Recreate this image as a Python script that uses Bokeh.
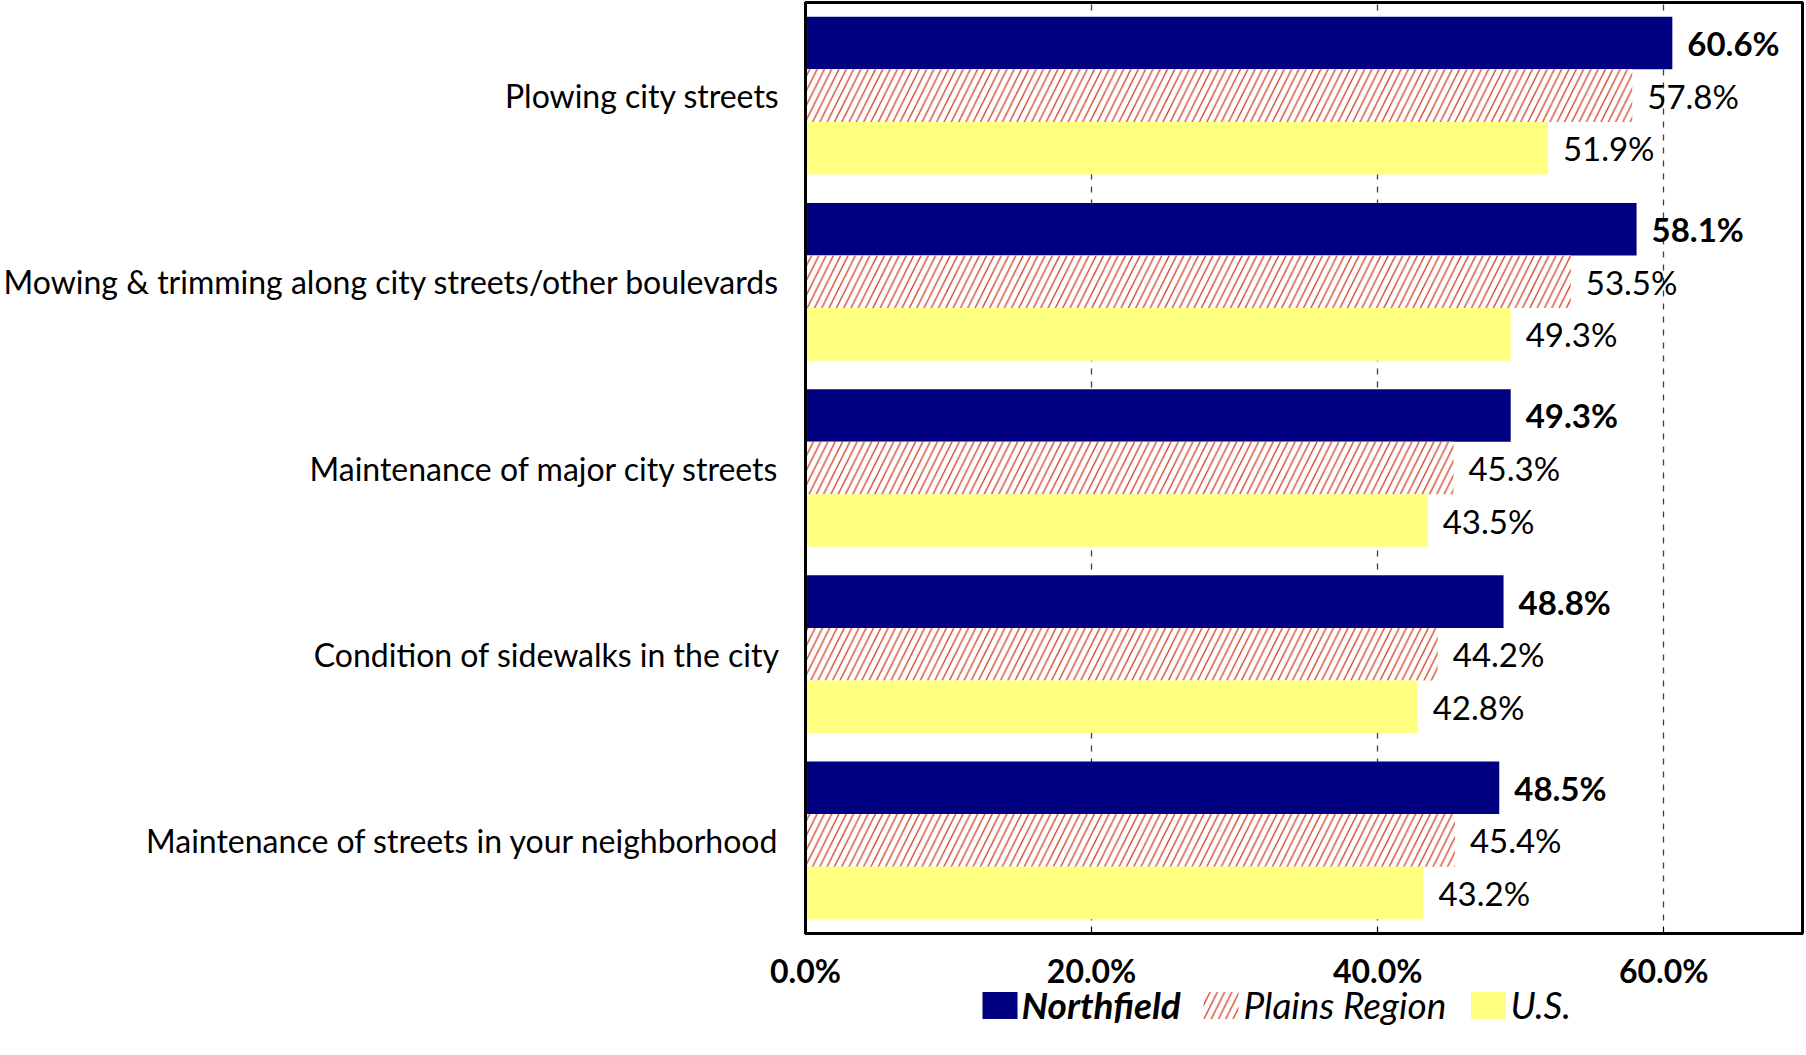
from bokeh.plotting import figure
from bokeh.models import (ColumnDataSource, FactorRange, Range1d, FixedTicker,
                          CustomJSTickFormatter, Label, LinearAxis)
from bokeh.transform import dodge
from bokeh.layouts import column
from bokeh.core.properties import value
from bokeh.embed import file_html
from bokeh.resources import INLINE

categories = [
    "Plowing city streets",
    "Mowing & trimming along city streets/other boulevards",
    "Maintenance of major city streets",
    "Condition of sidewalks in the city",
    "Maintenance of streets in your neighborhood",
]
northfield = [60.6, 58.1, 49.3, 48.8, 48.5]
plains = [57.8, 53.5, 45.3, 44.2, 45.4]
us = [51.9, 49.3, 43.5, 42.8, 43.2]
series_names = ["Northfield", "Plains Region", "U.S."]
x_ticks = [0, 20, 40, 60]

FONT = "Lato"
NAVY = "#000080"
YELLOW = "#FFFF80"
HATCH = "#D8472B"
HSCALE = 14.6

src = ColumnDataSource(dict(
    cat=categories, n=northfield, p=plains, u=us,
    nl=[f"{v:.1f}%" for v in northfield],
    pl=[f"{v:.1f}%" for v in plains],
    ul=[f"{v:.1f}%" for v in us],
))

BH = 0.2823

p = figure(
    y_range=FactorRange(factors=categories[::-1], range_padding=0),
    x_range=Range1d(0, 69.7),
    frame_width=997, frame_height=931,
    min_border_left=804, min_border_right=5, min_border_top=2, min_border_bottom=2,
    output_backend="svg", toolbar_location=None,
)

p.hbar(y=dodge("cat", BH, range=p.y_range), right="n", left=0, height=BH,
       source=src, fill_color=NAVY, line_color=None)
p.hbar(y=dodge("cat", 0, range=p.y_range), right="p", left=0, height=BH,
       source=src, fill_color="white", line_color=None,
       hatch_pattern="/", hatch_color=HATCH, hatch_scale=HSCALE, hatch_weight=1.4)
p.hbar(y=dodge("cat", -BH, range=p.y_range), right="u", left=0, height=BH,
       source=src, fill_color=YELLOW, line_color=None)

VFS = "33px"
p.text(x="n", y=dodge("cat", BH, range=p.y_range), text="nl", source=src,
       x_offset=15, text_baseline="middle", text_font=value(FONT),
       text_font_size=VFS, text_font_style="bold", text_color="black")
p.text(x="p", y=dodge("cat", 0, range=p.y_range), text="pl", source=src,
       x_offset=15, text_baseline="middle", text_font=value(FONT),
       text_font_size=VFS, text_color="black")
p.text(x="u", y=dodge("cat", -BH, range=p.y_range), text="ul", source=src,
       x_offset=15, text_baseline="middle", text_font=value(FONT),
       text_font_size=VFS, text_color="black")

# bottom axis of the bar panel: inward ticks only (labels live in the row below)
p.xaxis.ticker = FixedTicker(ticks=x_ticks)
p.xaxis.formatter = CustomJSTickFormatter(code="return '';")
p.xaxis.major_label_text_font_size = "0px"
p.xaxis.major_label_standoff = 0
p.xaxis.major_tick_in = 7
p.xaxis.major_tick_out = 0
p.xaxis.major_tick_line_color = "black"
p.xaxis.minor_tick_line_color = None
p.xaxis.axis_line_color = "black"
p.xaxis.axis_line_width = 3

p.yaxis.major_label_text_font = FONT
p.yaxis.major_label_text_font_size = "32px"
p.yaxis.major_label_text_color = "black"
p.yaxis.major_label_standoff = 20
p.yaxis.major_tick_line_color = None
p.yaxis.minor_tick_line_color = None
p.yaxis.axis_line_color = "black"
p.yaxis.axis_line_width = 3

p.ygrid.grid_line_color = None
p.xgrid.ticker = FixedTicker(ticks=x_ticks[1:])
p.xgrid.grid_line_color = "#404040"
p.xgrid.grid_line_dash = "6 7"
p.xgrid.grid_line_width = 1.3

p.outline_line_color = "black"
p.outline_line_width = 3
p.background_fill_color = "white"
p.border_fill_color = "white"

# lower row: shared x axis labels (above) + legend (in frame)
LH = 70
q = figure(frame_width=997, frame_height=LH,
           min_border_left=804, min_border_right=5, min_border_top=50, min_border_bottom=0,
           x_range=p.x_range, y_range=Range1d(0, LH),
           x_axis_location=None, y_axis_location=None,
           output_backend="svg", toolbar_location=None)
q.grid.visible = False
q.outline_line_color = None
xa = LinearAxis(ticker=FixedTicker(ticks=x_ticks),
                formatter=CustomJSTickFormatter(code="return tick.toFixed(1) + '%';"))
xa.major_label_text_font = FONT
xa.major_label_text_font_size = "32px"
xa.major_label_text_font_style = "bold"
xa.major_label_text_color = "black"
xa.major_label_standoff = -10
xa.major_tick_line_color = None
xa.minor_tick_line_color = None
xa.axis_line_color = None
q.add_layout(xa, "above")

# legend geometry in pixels, converted to the shared x scale
x0, x1 = 0, 69.7
pxu = (x1 - x0) / 997.0
def px(v):
    return x0 + (v - 804) * pxu

yc = LH - 19
sw_x = [998.5, 1219.5, 1487]
tx_x = [1020, 1242, 1509]
q.rect(x=[px(sw_x[0])], y=[yc - 1], width=35 * pxu, height=27, fill_color=NAVY, line_color=None)
q.rect(x=[px(sw_x[1])], y=[yc - 1], width=35 * pxu, height=27, fill_color="white", line_color=None,
       hatch_pattern="/", hatch_color=HATCH, hatch_scale=HSCALE, hatch_weight=1.4)
q.rect(x=[px(sw_x[2])], y=[yc - 1], width=35 * pxu, height=27, fill_color=YELLOW, line_color=None)
styles = ["bold italic", "italic", "italic"]
for i in range(3):
    q.add_layout(Label(x=px(tx_x[i]), y=yc, text=series_names[i], text_baseline="middle",
                       text_font=FONT, text_font_size="37px", text_font_style=styles[i],
                       text_color="black"))

layout = column(p, q, spacing=0)
open("out.html", "w").write(file_html(layout, INLINE))
